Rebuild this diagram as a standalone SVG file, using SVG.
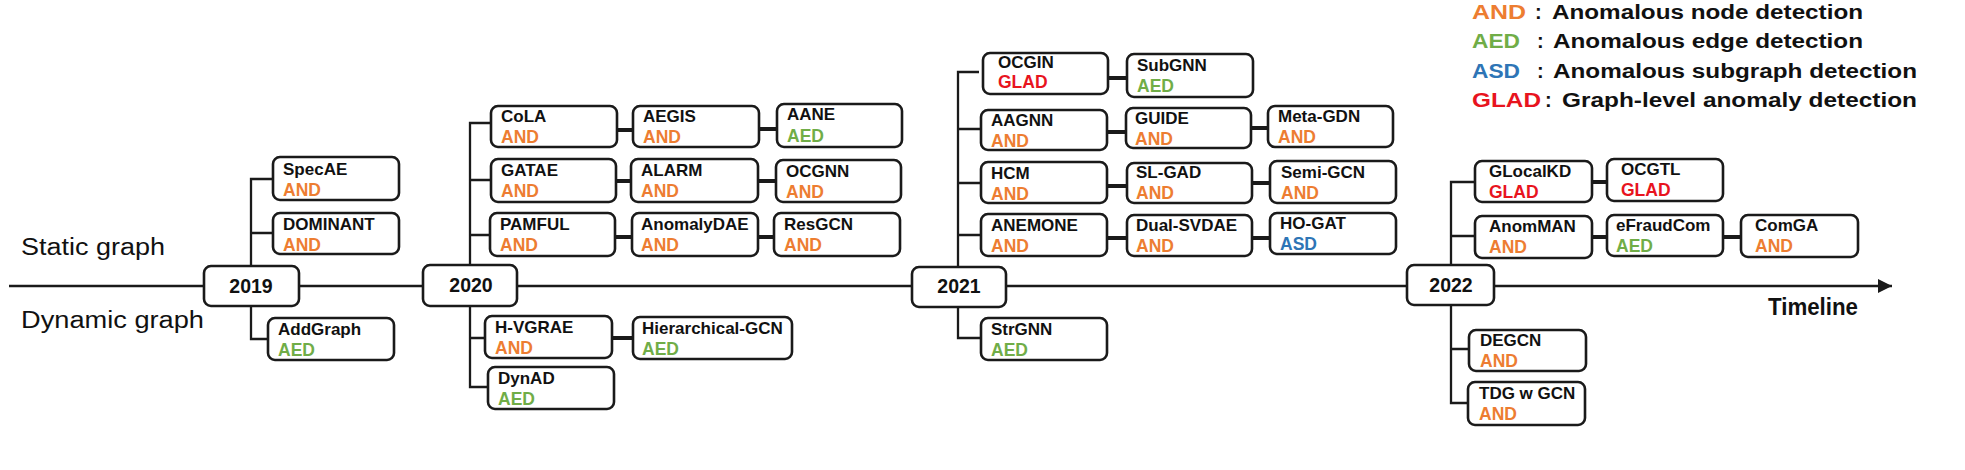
<svg xmlns="http://www.w3.org/2000/svg" width="1965" height="470" viewBox="0 0 1965 470">
<defs>
<style>
.box{fill:#fff;stroke:#1a1a1a;stroke-width:2.6}
.ln{fill:none;stroke:#1a1a1a;stroke-width:2.3}
.lk{fill:none;stroke:#1a1a1a;stroke-width:3.8}
.nm{font-family:"Liberation Sans",Arial,sans-serif;font-weight:bold;font-size:17px;fill:#111}
.tg{font-family:"Liberation Sans",Arial,sans-serif;font-weight:bold;font-size:17.5px}
.yr{font-family:"Liberation Sans",Arial,sans-serif;font-weight:bold;font-size:19.5px;fill:#111;text-anchor:middle}
.side{font-family:"Liberation Sans",Arial,sans-serif;font-size:23px;fill:#111}
.lg{font-family:"Liberation Sans",Arial,sans-serif;font-weight:bold;font-size:20px;fill:#111}
.and{fill:#ED7D31}.aed{fill:#70AD47}.asd{fill:#2E75B6}.glad{fill:#E8141E}
</style>
<marker id="arr" markerWidth="16" markerHeight="16" refX="14" refY="7" orient="auto" markerUnits="userSpaceOnUse">
<path d="M0,0 L14,7 L0,14 Z" fill="#1a1a1a"/>
</marker>
</defs>
<rect width="1965" height="470" fill="#fff"/>

<g id="labels">
<text class="side" x="21" y="255" textLength="144" lengthAdjust="spacingAndGlyphs">Static graph</text>
<text class="side" x="21" y="328" textLength="183" lengthAdjust="spacingAndGlyphs">Dynamic graph</text>
<text x="1768" y="315" font-family="Liberation Sans, Arial, sans-serif" font-weight="bold" font-size="23" fill="#111" textLength="90" lengthAdjust="spacingAndGlyphs">Timeline</text>
</g>

<g id="legend">
<text class="lg and" x="1472" y="19" textLength="54" lengthAdjust="spacingAndGlyphs">AND</text>
<text class="lg" x="1535" y="19">:</text>
<text class="lg" x="1552" y="19" textLength="311" lengthAdjust="spacingAndGlyphs">Anomalous node detection</text>
<text class="lg aed" x="1472" y="48" textLength="48" lengthAdjust="spacingAndGlyphs">AED</text>
<text class="lg" x="1537" y="48">:</text>
<text class="lg" x="1553" y="48" textLength="310" lengthAdjust="spacingAndGlyphs">Anomalous edge detection</text>
<text class="lg asd" x="1472" y="78" textLength="48" lengthAdjust="spacingAndGlyphs">ASD</text>
<text class="lg" x="1537" y="78">:</text>
<text class="lg" x="1553" y="78" textLength="364" lengthAdjust="spacingAndGlyphs">Anomalous subgraph detection</text>
<text class="lg glad" x="1472" y="107" textLength="69" lengthAdjust="spacingAndGlyphs">GLAD</text>
<text class="lg" x="1545" y="107">:</text>
<text class="lg" x="1562" y="107" textLength="355" lengthAdjust="spacingAndGlyphs">Graph-level anomaly detection</text>
</g>

<g id="connectors">
<line class="ln" x1="9" y1="286" x2="1892" y2="286" marker-end="url(#arr)"/>
<path class="ln" d="M251,266 V179 H273 M251,233 H273 M251,306 V339 H268"/>
<path class="ln" d="M470,265 V123 H491 M470,180 H491 M470,235 H490 M470,306 V387 H488 M470,338 H485"/>
<path class="ln" d="M958,267 V72 H979 M958,129 H981 M958,183 H981 M958,235 H981 M958,307 V338 H981"/>
<path class="ln" d="M1451,265 V182 H1475 M1451,236 H1475 M1451,305 V403 H1468 M1451,349 H1469"/>
<path class="lk" d="M617,130 H633 M759,129 H777 M616,181 H631 M758,181 H776 M615,237 H632 M758,237 H774 M612,338 H633"/>
<path class="lk" d="M1108,78 H1127 M1107,132 H1126 M1251,128 H1268 M1107,186 H1127 M1252,183 H1270 M1107,238 H1127 M1252,238 H1270"/>
<path class="lk" d="M1592,182 H1607 M1592,237 H1607 M1723,237 H1741"/>
</g>

<g id="y2019"><rect class="box" x="204" y="266" width="95" height="40" rx="7"/><text class="yr" x="251" y="293">2019</text></g>
<g id="y2020"><rect class="box" x="423" y="265" width="94" height="41" rx="7"/><text class="yr" x="471" y="292">2020</text></g>
<g id="y2021"><rect class="box" x="912" y="267" width="94" height="40" rx="7"/><text class="yr" x="959" y="293">2021</text></g>
<g id="y2022"><rect class="box" x="1407" y="265" width="87" height="40" rx="7"/><text class="yr" x="1451" y="292">2022</text></g>

<g id="n-SpecAE"><rect class="box" x="273" y="157" width="126" height="43" rx="7"/><text class="nm" x="283" y="175">SpecAE</text><text class="tg and" x="283" y="196">AND</text></g>
<g id="n-DOMINANT"><rect class="box" x="273" y="213" width="126" height="41" rx="7"/><text class="nm" x="283" y="230">DOMINANT</text><text class="tg and" x="283" y="251">AND</text></g>
<g id="n-AddGraph"><rect class="box" x="268" y="318" width="126" height="42" rx="7"/><text class="nm" x="278" y="335">AddGraph</text><text class="tg aed" x="278" y="356">AED</text></g>

<g id="n-CoLA"><rect class="box" x="491" y="106" width="126" height="41" rx="7"/><text class="nm" x="501" y="122">CoLA</text><text class="tg and" x="501" y="143">AND</text></g>
<g id="n-AEGIS"><rect class="box" x="633" y="106" width="126" height="41" rx="7"/><text class="nm" x="643" y="122">AEGIS</text><text class="tg and" x="643" y="143">AND</text></g>
<g id="n-AANE"><rect class="box" x="777" y="104" width="125" height="43" rx="7"/><text class="nm" x="787" y="120">AANE</text><text class="tg aed" x="787" y="142">AED</text></g>
<g id="n-GATAE"><rect class="box" x="491" y="159" width="125" height="43" rx="7"/><text class="nm" x="501" y="176">GATAE</text><text class="tg and" x="501" y="197">AND</text></g>
<g id="n-ALARM"><rect class="box" x="631" y="159" width="127" height="43" rx="7"/><text class="nm" x="641" y="176">ALARM</text><text class="tg and" x="641" y="197">AND</text></g>
<g id="n-OCGNN"><rect class="box" x="776" y="160" width="125" height="42" rx="7"/><text class="nm" x="786" y="177">OCGNN</text><text class="tg and" x="786" y="198">AND</text></g>
<g id="n-PAMFUL"><rect class="box" x="490" y="213" width="125" height="43" rx="7"/><text class="nm" x="500" y="230">PAMFUL</text><text class="tg and" x="500" y="251">AND</text></g>
<g id="n-AnomalyDAE"><rect class="box" x="632" y="213" width="126" height="43" rx="7"/><text class="nm" x="641" y="230">AnomalyDAE</text><text class="tg and" x="641" y="251">AND</text></g>
<g id="n-ResGCN"><rect class="box" x="774" y="213" width="126" height="43" rx="7"/><text class="nm" x="784" y="230">ResGCN</text><text class="tg and" x="784" y="251">AND</text></g>
<g id="n-H-VGRAE"><rect class="box" x="485" y="316" width="127" height="42" rx="7"/><text class="nm" x="495" y="333">H-VGRAE</text><text class="tg and" x="495" y="354">AND</text></g>
<g id="n-Hierarchical-GCN"><rect class="box" x="633" y="317" width="159" height="42" rx="7"/><text class="nm" x="642" y="334">Hierarchical-GCN</text><text class="tg aed" x="642" y="355">AED</text></g>
<g id="n-DynAD"><rect class="box" x="488" y="367" width="126" height="42" rx="7"/><text class="nm" x="498" y="384">DynAD</text><text class="tg aed" x="498" y="405">AED</text></g>

<g id="n-OCGIN"><rect class="box" x="983" y="53" width="125" height="41" rx="7"/><text class="nm" x="998" y="68">OCGIN</text><text class="tg glad" x="998" y="88">GLAD</text></g>
<g id="n-SubGNN"><rect class="box" x="1127" y="54" width="126" height="43" rx="7"/><text class="nm" x="1137" y="71">SubGNN</text><text class="tg aed" x="1137" y="92">AED</text></g>
<g id="n-AAGNN"><rect class="box" x="981" y="110" width="126" height="40" rx="7"/><text class="nm" x="991" y="126">AAGNN</text><text class="tg and" x="991" y="147">AND</text></g>
<g id="n-GUIDE"><rect class="box" x="1126" y="108" width="125" height="40" rx="7"/><text class="nm" x="1135" y="124">GUIDE</text><text class="tg and" x="1135" y="145">AND</text></g>
<g id="n-Meta-GDN"><rect class="box" x="1268" y="106" width="125" height="41" rx="7"/><text class="nm" x="1278" y="122">Meta-GDN</text><text class="tg and" x="1278" y="143">AND</text></g>
<g id="n-HCM"><rect class="box" x="981" y="162" width="126" height="41" rx="7"/><text class="nm" x="991" y="179">HCM</text><text class="tg and" x="991" y="200">AND</text></g>
<g id="n-SL-GAD"><rect class="box" x="1127" y="163" width="125" height="40" rx="7"/><text class="nm" x="1136" y="178">SL-GAD</text><text class="tg and" x="1136" y="199">AND</text></g>
<g id="n-Semi-GCN"><rect class="box" x="1270" y="161" width="126" height="42" rx="7"/><text class="nm" x="1281" y="178">Semi-GCN</text><text class="tg and" x="1281" y="199">AND</text></g>
<g id="n-ANEMONE"><rect class="box" x="981" y="214" width="126" height="42" rx="7"/><text class="nm" x="991" y="231">ANEMONE</text><text class="tg and" x="991" y="252">AND</text></g>
<g id="n-Dual-SVDAE"><rect class="box" x="1127" y="215" width="125" height="41" rx="7"/><text class="nm" x="1136" y="231">Dual-SVDAE</text><text class="tg and" x="1136" y="252">AND</text></g>
<g id="n-HO-GAT"><rect class="box" x="1270" y="213" width="126" height="41" rx="7"/><text class="nm" x="1280" y="229">HO-GAT</text><text class="tg asd" x="1280" y="250">ASD</text></g>
<g id="n-StrGNN"><rect class="box" x="981" y="318" width="126" height="42" rx="7"/><text class="nm" x="991" y="335">StrGNN</text><text class="tg aed" x="991" y="356">AED</text></g>

<g id="n-GLocalKD"><rect class="box" x="1475" y="161" width="117" height="41" rx="7"/><text class="nm" x="1489" y="177">GLocalKD</text><text class="tg glad" x="1489" y="198">GLAD</text></g>
<g id="n-OCGTL"><rect class="box" x="1607" y="159" width="116" height="42" rx="7"/><text class="nm" x="1621" y="175">OCGTL</text><text class="tg glad" x="1621" y="196">GLAD</text></g>
<g id="n-AnomMAN"><rect class="box" x="1475" y="216" width="117" height="42" rx="7"/><text class="nm" x="1489" y="232">AnomMAN</text><text class="tg and" x="1489" y="253">AND</text></g>
<g id="n-eFraudCom"><rect class="box" x="1607" y="215" width="116" height="41" rx="7"/><text class="nm" x="1616" y="231">eFraudCom</text><text class="tg aed" x="1616" y="252">AED</text></g>
<g id="n-ComGA"><rect class="box" x="1741" y="215" width="117" height="42" rx="7"/><text class="nm" x="1755" y="231">ComGA</text><text class="tg and" x="1755" y="252">AND</text></g>
<g id="n-DEGCN"><rect class="box" x="1469" y="330" width="117" height="41" rx="7"/><text class="nm" x="1480" y="346">DEGCN</text><text class="tg and" x="1480" y="367">AND</text></g>
<g id="n-TDGwGCN"><rect class="box" x="1468" y="382" width="117" height="43" rx="7"/><text class="nm" x="1479" y="399">TDG w GCN</text><text class="tg and" x="1479" y="420">AND</text></g>
</svg>
